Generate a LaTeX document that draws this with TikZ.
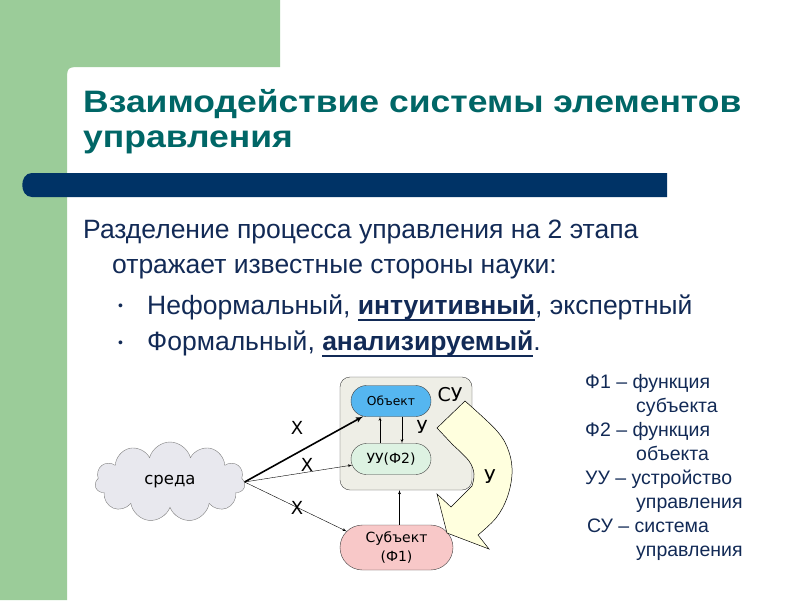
\documentclass[tikz,border=0pt]{standalone}
\usepackage{fontspec}
\setmainfont{Liberation Sans}
\newfontfamily\dejavu{DejaVu Sans}
\newfontfamily\headfont[FakeStretch=1.145]{Liberation Sans}
\usepackage{tikz}
\usetikzlibrary{shapes, shapes.symbols, shapes.misc, positioning, arrows}
\usepackage{xcolor}
\definecolor{leafgreen}{RGB}{155,204,153}
\definecolor{barblue}{RGB}{0,51,102}
\definecolor{titleteal}{RGB}{0,102,102}
\definecolor{textnavy}{RGB}{18,42,86}
\definecolor{cloudgray}{RGB}{232,232,238}
\definecolor{sufill}{RGB}{238,238,230}
\definecolor{objblue}{RGB}{85,182,240}
\definecolor{uugreen}{RGB}{221,242,226}
\definecolor{subjpink}{RGB}{248,200,200}
\definecolor{uyellow}{RGB}{255,255,222}
\newcommand{\thickul}[1]{\setbox0\hbox{#1}\rlap{\rule[-7pt]{\wd0}{1.8pt}}\box0}
\tikzset{%
    % Slide texts
    heading/.style  = {anchor=base west, inner sep=0pt, text=titleteal,
    font=\headfont\bfseries\fontsize{31}{35}\selectfont},
    body/.style     = {anchor=base west, inner sep=0pt, text=textnavy,
    font=\fontsize{26.5}{30}\selectfont},
    legend/.style   = {anchor=base west, inner sep=0pt, text=textnavy,
    font=\fontsize{19.5}{22}\selectfont},
    % Diagram labels
    tag/.style      = {inner sep=0pt, font=\dejavu\fontsize{18}{20}\selectfont}
}

\begin{document}
\begin{tikzpicture}[x=1pt, y=-1pt]

	\tikzstyle{pill}=[rounded rectangle, draw=black!75, align=center, inner sep=0pt]
	\tikzstyle{link}=[->,>=latex',black]

	% fond de la diapositive
	\fill[white] (0,0) rectangle (800,600);
	\useasboundingbox (0,0) rectangle (800,600);
	\fill[leafgreen] (0,0) -- (280,0) -- (280,67) -- (82,67) .. controls (67,67) .. (67,82) -- (67,600) -- (0,600) -- cycle;
	\fill[barblue] (667,173) -- (32,173) .. controls (19,173) and (19,197) .. (32,197) -- (667,197) -- cycle;

	% titre et texte
	\node[heading] 	(title1) at (83,112) 	{Взаимодействие системы элементов};
	\node[heading] 	(title2) at (83,147) 	{управления};
	\node[body] 	(line1) at (83,238) 	{Разделение процесса управления на 2 этапа};
	\node[body] 	(line2) at (112,273) 	{отражает известные стороны науки:};
	\node[body, font=\fontsize{14}{16}\selectfont] 	(bul1) at (118,310) 	{\textbullet};
	\node[body] 	(item1) at (147,314) 	{Неформальный, \textbf{\thickul{интуитивный}}, экспертный};
	\node[body, font=\fontsize{14}{16}\selectfont] 	(bul2) at (118,347) 	{\textbullet};
	\node[body] 	(item2) at (147,350) 	{Формальный, \textbf{\thickul{анализируемый}}.};

	% legende
	\node[legend] 	(leg1) at (585,388) 	{Ф1 – функция};
	\node[legend] 	(leg2) at (636,412) 	{субъекта};
	\node[legend] 	(leg3) at (585,436) 	{Ф2 – функция};
	\node[legend] 	(leg4) at (636,460) 	{объекта};
	\node[legend] 	(leg5) at (585,484) 	{УУ – устройство};
	\node[legend] 	(leg6) at (636,508) 	{управления};
	\node[legend] 	(leg7) at (587,532) 	{СУ – система};
	\node[legend] 	(leg8) at (636,556) 	{управления};

	% schema
	\node[draw=black!75, fill=sufill, rounded corners=10pt, minimum width=132pt, minimum height=113pt] (su) at (406,433.5) {};
	\node[pill, fill=objblue, minimum width=80pt, minimum height=31pt, font=\dejavu\fontsize{12.3}{14}\selectfont] 	(obj) at (391,401) 	{Объект};
	\node[pill, fill=uugreen, minimum width=80pt, minimum height=31pt, font=\dejavu\fontsize{14}{16}\selectfont] 	(uu) at (391,459) 	{УУ(Ф2)};
	\node[pill, fill=subjpink, minimum width=113pt, minimum height=45pt, font=\dejavu\fontsize{14}{19}\selectfont] 	(subj) at (396.5,547.5) 	{Субъект\\(Ф1)};
	\node[cloud, cloud puffs=11, aspect=1.9, draw=black!50, fill=cloudgray, minimum width=150pt, minimum height=80pt, font=\dejavu\fontsize{16.5}{18}\selectfont] 	(sreda) at (170,482) 	{среда};
	\node[tag, font=\dejavu\fontsize{19}{20}\selectfont] 	(sulabel) at (450,395) 	{СУ};

	\draw[link, line width=1.6pt] (sreda.east) -- (obj);
	\draw[link] (sreda.east) -- (uu);
	\draw[link] (sreda.east) -- (subj.162);
	\node[tag] 	(x1) at (297,428) 	{Х};
	\node[tag] 	(x2) at (307,465) 	{Х};
	\node[tag] 	(x3) at (297,508) 	{Х};

	\draw[link] ([xshift=-11pt]uu.north) -- ([xshift=-11pt]obj.south);
	\draw[link] ([xshift=11pt]obj.south) -- ([xshift=11pt]uu.north);
	\node[tag] 	(u1) at (422,427) 	{У};
	\draw[link] ([xshift=3pt]subj.north) -- ([xshift=3pt]subj.north |- su.south);

	% fleche courbe
	\filldraw[fill=uyellow, draw=black, line width=0.5pt] plot[smooth, tension=0.6] coordinates {(465,401) (497,431) (509,452) (512,474) (507,498) (496,518) (478,535)} -- (489,549) -- (447,533) -- (437,494) -- (451,507) -- plot[smooth, tension=0.6] coordinates {(472,486) (474,474) (469,461) (453,445)} -- (437,428) -- cycle;
	\node[tag, font=\dejavu\fontsize{19}{20}\selectfont] 	(u2) at (490,477) 	{У};

\end{tikzpicture}
\end{document}
